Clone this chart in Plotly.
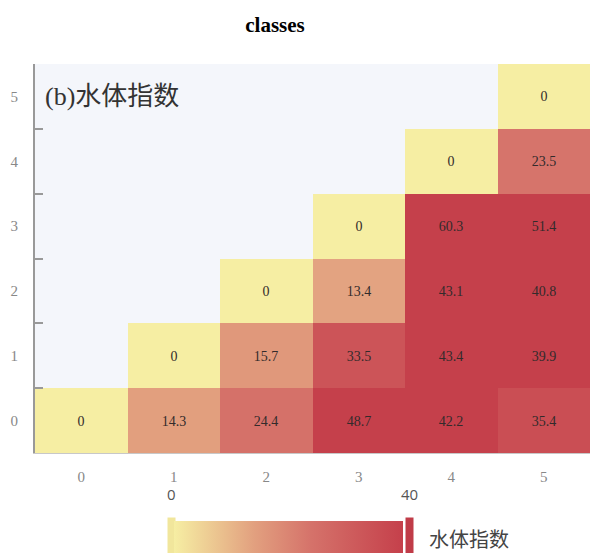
import plotly.graph_objects as go

x_labels = ["0", "1", "2", "3", "4", "5"]
y_labels = ["0", "1", "2", "3", "4", "5"]
# rows: y = 0..5, columns: x = 0..5 (None = empty cell)
row0 = [0, 14.3, 24.4, 48.7, 42.2, 35.4]
row1 = [None, 0, 15.7, 33.5, 43.4, 39.9]
row2 = [None, None, 0, 13.4, 43.1, 40.8]
row3 = [None, None, None, 0, 60.3, 51.4]
row4 = [None, None, None, None, 0, 23.5]
row5 = [None, None, None, None, None, 0]
z = [row0, row1, row2, row3, row4, row5]
text = [["" if v is None else f"{v:g}" for v in r] for r in z]
cbar_ticks = [0, 40]

W, H = 590, 553
L, R, T, B = 35, 0, 64, 100
PW, PH = W - L - R, H - T - B


def px_x(px):
    return (px - L) / PW


def px_y(py):
    return (H - B - py) / PH


fig = go.Figure()
fig.add_trace(go.Heatmap(
    x=x_labels, y=y_labels, z=z, text=text, texttemplate="%{text}",
    textfont=dict(family="Liberation Serif", size=14, color="#332b2b"),
    zmin=cbar_ticks[0], zmax=cbar_ticks[1],
    colorscale=[[0, "#f6eea3"], [0.35, "#e2a07f"], [0.6, "#d5726a"], [1, "#c5404b"]],
    hoverongaps=False,
    colorbar=dict(
        orientation="h", xref="container", yref="container",
        x=(290.5 + 16) / W, xanchor="center", y=(H - 521) / H, yanchor="top",
        lenmode="pixels", len=229, thickness=40, outlinewidth=0, xpad=0, ypad=0,
        tickvals=cbar_ticks, ticks="", showticklabels=False,
    ),
))

fig.add_annotation(xref="paper", yref="paper", x=px_x(43), y=px_y(97),
                   text="(b)水体指数", showarrow=False, xanchor="left", yanchor="middle",
                   font=dict(family="Liberation Serif, Noto Sans CJK SC", size=26, color="#333333"))
# colorbar labels
for v, px in zip(cbar_ticks, [171, 409]):
    fig.add_annotation(xref="paper", yref="paper", x=px_x(px), y=px_y(494),
                       text=str(v), showarrow=False, xanchor="center", yanchor="middle",
                       font=dict(family="Open Sans", size=15, color="#555555"))
fig.add_annotation(xref="paper", yref="paper", x=px_x(427), y=px_y(538),
                   text="水体指数", showarrow=False, xanchor="left", yanchor="middle",
                   font=dict(family="Noto Sans CJK SC", size=20, color="#444444"))
# colorbar end handles
fig.add_shape(type="rect", xref="paper", yref="paper", x0=px_x(167), x1=px_x(176), y0=px_y(560), y1=px_y(517),
              fillcolor="#f1e69c", line=dict(color="white", width=1), layer="above")
fig.add_shape(type="rect", xref="paper", yref="paper", x0=px_x(405), x1=px_x(414), y0=px_y(560), y1=px_y(517),
              fillcolor="#c03c48", line=dict(color="white", width=1), layer="above")

fig.update_layout(
    width=W, height=H,
    margin=dict(l=L, r=R, t=T, b=B, pad=0, autoexpand=False),
    paper_bgcolor="white", plot_bgcolor="#f4f6fb",
    title=dict(text="<b>classes</b>", x=275 / W, xanchor="center", xref="container",
               y=(H - 25) / H, yanchor="middle", yref="container",
               font=dict(family="Liberation Serif", size=21, color="#000")),
    xaxis=dict(type="category", showgrid=False, zeroline=False, ticks="",
               showline=True, linecolor="#c8c8c8", linewidth=1, automargin=False,
               tickfont=dict(family="Liberation Serif", size=15, color="#888888"), ticklabelstandoff=10),
    yaxis=dict(type="category", showgrid=False, zeroline=False, ticks="inside", tickson="boundaries",
               ticklen=8, tickwidth=2, tickcolor="#999999", automargin=False,
               showline=True, linecolor="#999999", linewidth=2,
               tickfont=dict(family="Liberation Serif", size=15, color="#888888"), ticklabelstandoff=12),
)
fig.write_html("out.html", config={"displayModeBar": False},
               post_script="document.body.style.margin='0';document.body.style.overflow='hidden';")
